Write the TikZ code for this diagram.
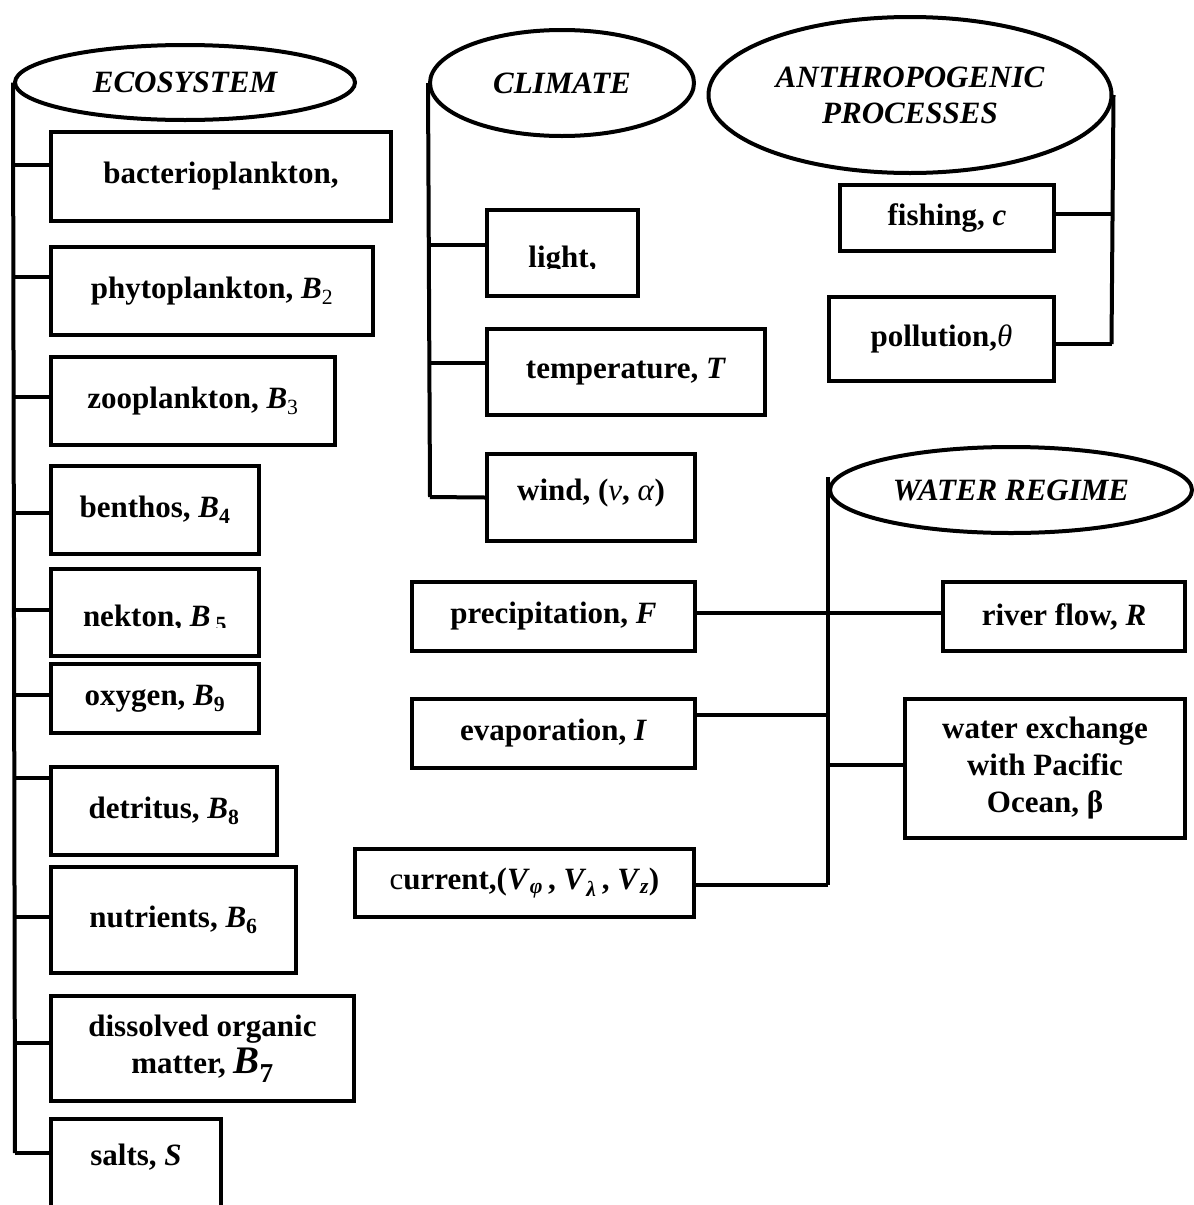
\documentclass[tikz,border=0pt]{standalone}
\usepackage{fontspec}
\setmainfont{Liberation Serif}
\usetikzlibrary{shapes.geometric}
\tikzset{
  box/.style={draw, line width=4pt, inner sep=0pt, align=center,
    font=\fontsize{31}{37}\selectfont\bfseries},
  oval/.style={draw, ellipse, line width=4pt, inner sep=0pt, align=center,
    font=\fontsize{31}{36}\selectfont\bfseries\itshape},
  wire/.style={line width=4pt},
  txt/.style={inner sep=0pt, font=\fontsize{31}{37}\selectfont\bfseries}
}
\begin{document}
\begin{tikzpicture}[x=1pt,y=-1pt]
\useasboundingbox (0,0) rectangle (1194,1205);

% ---------------- ECOSYSTEM ----------------
\node[oval, minimum width=340pt, minimum height=75pt] (eco) at (185,82.5) {ECOSYSTEM};
\node[box, minimum width=340pt, minimum height=89pt] (bact) at (221,176.5) {bacterioplankton,};
\node[box, minimum width=322pt, minimum height=88pt] (phyto) at (212,291) {phytoplankton, \textit{B}\textsubscript{\mdseries 2}};
\node[box, minimum width=284pt, minimum height=88pt] (zoo) at (193,401) {zooplankton, \textit{B}\textsubscript{\mdseries 3}};
\node[box, minimum width=208pt, minimum height=88pt] (benth) at (155,510) {benthos, \textit{B}\textsubscript{4}};
\node[box, minimum width=208pt, minimum height=87pt] (nek) at (155,612.5) {};
\begin{scope}
  \clip (51,560) rectangle (259,627);
  \node[txt, anchor=base] (nekt) at (155,626) {nekton, \textit{B}\,\textsubscript{5}};
\end{scope}
\node[box, minimum width=208pt, minimum height=69pt] (oxy) at (155,698.5) {oxygen, \textit{B}\textsubscript{9}};
\node[box, minimum width=226pt, minimum height=88pt] (detr) at (164,811) {detritus, \textit{B}\textsubscript{8}};
\node[box, minimum width=245pt, minimum height=106pt] (nutr) at (173.5,920) {nutrients, \textit{B}\textsubscript{6}};
\node[box, minimum width=303pt, minimum height=105pt] (dom) at (202.5,1048.5)
  {dissolved organic\\matter, {\fontsize{39}{40}\selectfont\textit{B}\textsubscript{7}}};
\node[box, minimum width=170pt, minimum height=129pt, text depth=57pt] (salts) at (136,1183.5) {salts, \textit{S}};

\coordinate (ecoEnd) at (15,1153);
\draw[wire] (eco.west) -- (ecoEnd);
\draw[wire] ([yshift=11.5pt]bact.west) -- ([yshift=11.5pt]bact.west -| ecoEnd);
\draw[wire] ([yshift=14pt]phyto.west) -- ([yshift=14pt]phyto.west -| ecoEnd);
\draw[wire] ([yshift=4pt]zoo.west) -- ([yshift=4pt]zoo.west -| ecoEnd);
\draw[wire] ([yshift=-3pt]benth.west) -- ([yshift=-3pt]benth.west -| ecoEnd);
\draw[wire] ([yshift=2.5pt]nek.west) -- ([yshift=2.5pt]nek.west -| ecoEnd);
\draw[wire] ([yshift=3.5pt]oxy.west) -- ([yshift=3.5pt]oxy.west -| ecoEnd);
\draw[wire] ([yshift=33pt]detr.west) -- ([yshift=33pt]detr.west -| ecoEnd);
\draw[wire] ([yshift=3pt]nutr.west) -- ([yshift=3pt]nutr.west -| ecoEnd);
\draw[wire] ([yshift=5.5pt]dom.west) -- ([yshift=5.5pt]dom.west -| ecoEnd);
\draw[wire] ([yshift=30.5pt]salts.west) -- (ecoEnd);

% ---------------- CLIMATE ----------------
\node[oval, minimum width=264pt, minimum height=106pt] (clim) at (562,83) {CLIMATE};
\node[box, minimum width=151pt, minimum height=86pt] (light) at (562.5,253) {};
\begin{scope}
  \clip (487,210) rectangle (638,268.5);
  \node[txt, anchor=base] (lightt) at (562.5,267) {light,};
\end{scope}
\node[box, minimum width=278pt, minimum height=86pt] (temp) at (626,372) {temperature, \textit{T}};
\node[box, minimum width=208pt, minimum height=87pt, text depth=16pt] (wind) at (591,497.5)
  {wind, (\textit{\mdseries v}, \textit{\mdseries α})};

\coordinate (climEnd) at (430,497);
\draw[wire] (clim.west) -- (climEnd);
\draw[wire] ([yshift=8pt]light.west) -- ([yshift=8pt]light.west -| climEnd);
\draw[wire] ([yshift=9pt]temp.west) -- ([yshift=9pt]temp.west -| climEnd);
\draw[wire] (wind.west) -- (climEnd);

% ---------------- ANTHROPOGENIC ----------------
\node[oval, minimum width=403pt, minimum height=156pt] (anth) at (910,95) {ANTHROPOGENIC\\PROCESSES};
\node[box, minimum width=214pt, minimum height=66pt] (fish) at (947,218) {fishing, \textit{c}};
\node[box, minimum width=225pt, minimum height=84pt] (poll) at (941.5,339) {pollution,\textit{\mdseries θ}};

\coordinate (anthEnd) at (1111.5,344);
\draw[wire] (anth.east) -- (anthEnd);
\draw[wire] ([yshift=4pt]fish.east) -- ([yshift=4pt]fish.east -| anthEnd);
\draw[wire] ([yshift=-5pt]poll.east) -- (anthEnd);

% ---------------- WATER REGIME ----------------
\node[oval, minimum width=362pt, minimum height=86pt] (wat) at (1011,490) {WATER REGIME};
\node[box, minimum width=283pt, minimum height=69pt] (prec) at (553.5,616.5) {precipitation, \textit{F}};
\node[box, minimum width=242pt, minimum height=69pt] (river) at (1064,616.5) {river flow, \textit{R}};
\node[box, minimum width=283pt, minimum height=69pt] (evap) at (553.5,733.5) {evaporation, \textit{I}};
\node[box, minimum width=280pt, minimum height=139pt] (wex) at (1045,768.5) {water exchange\\with Pacific\\Ocean, β};
\node[box, minimum width=339pt, minimum height=68pt] (curr) at (524.5,883)
  {\textmd{c}urrent,(\textit{V}\textsubscript{\textit{φ}}\,, \textit{V}\textsubscript{\textit{λ}}\,, \textit{V}\textsubscript{\textit{z}})};

\coordinate (watEnd) at (828,885);
\draw[wire] ([yshift=13pt]wat.west) -- (watEnd);
\draw[wire] ([yshift=3.5pt]prec.east) -- ([yshift=3.5pt]river.west);
\draw[wire] ([yshift=18.5pt]evap.east) -- ([yshift=18.5pt]evap.east -| watEnd);
\draw[wire] ([yshift=3.5pt]wex.west) -- ([yshift=3.5pt]wex.west -| watEnd);
\draw[wire] ([yshift=-2pt]curr.east) -- (watEnd);
\end{tikzpicture}
\end{document}
